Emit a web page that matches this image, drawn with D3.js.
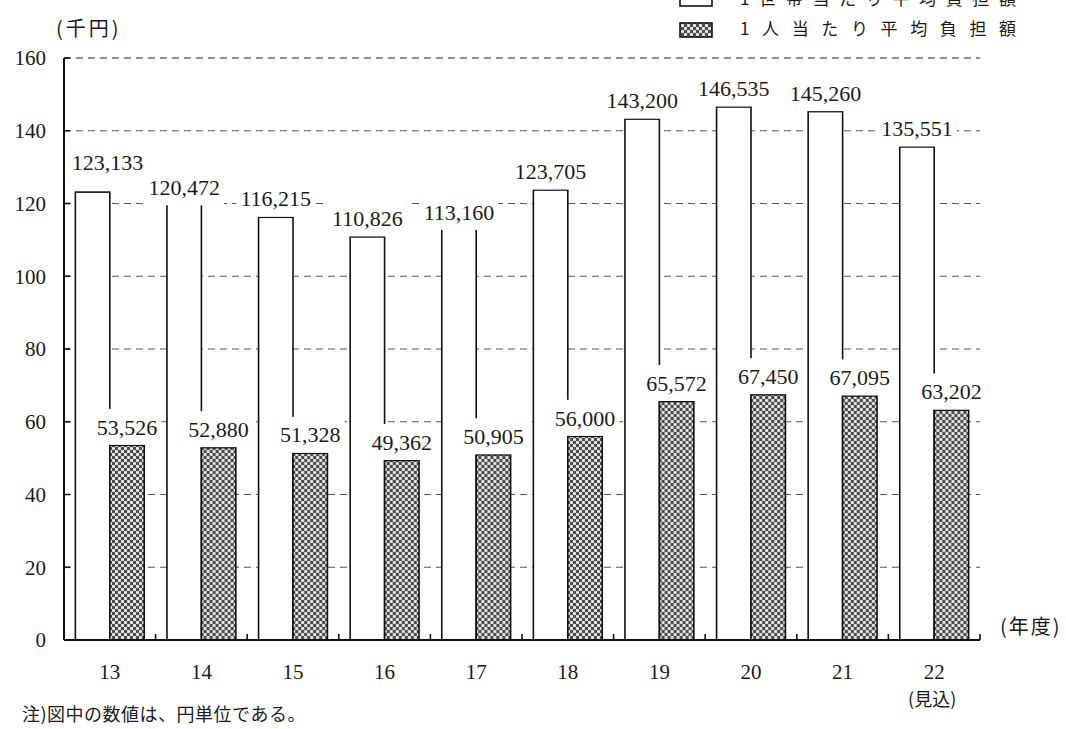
<!DOCTYPE html>
<html lang="ja">
<head>
<meta charset="utf-8">
<script src="https://cdn.jsdelivr.net/npm/d3@7"></script>
<style>
  html, body { margin: 0; padding: 0; background: #fff; }
  svg { display: block; }
  .num { font-family: "Liberation Serif", "DejaVu Serif", serif; fill: #1a1a1a; }
  .jp { font-family: "Noto Sans CJK JP", "Noto Sans CJK SC", sans-serif; fill: #1a1a1a; }
</style>
</head>
<body>
<svg id="chart" width="1066" height="729"></svg>
<script>
// Fiscal years (Heisei), average burden per household and per person (yen)
const years = ["13", "14", "15", "16", "17", "18", "19", "20", "21", "22"];
const yearNotes = ["", "", "", "", "", "", "", "", "", "(見込)"];
const householdBurden = [123133, 120472, 116215, 110826, 113160, 123705, 143200, 146535, 145260, 135551];
const perPersonBurden = [53526, 52880, 51328, 49362, 50905, 56000, 65572, 67450, 67095, 63202];
const yTicks = [0, 20, 40, 60, 80, 100, 120, 140, 160];
const seriesNames = ["1世帯当たり平均負担額", "1人当たり平均負担額"];

const svg = d3.select("#chart");
const plot = { left: 64, right: 980, top: 58, bottom: 640 };

const y = d3.scaleLinear().domain([0, 160]).range([plot.bottom, plot.top]);
const x = d3.scaleBand().domain(years).range([plot.left, plot.right]).paddingInner(0).paddingOuter(0);
const inner = d3.scaleBand().domain(["household", "person"]).range([0, x.bandwidth()])
  .paddingInner(0).paddingOuter(0.33);

// mesh fill for the per-person bars
const defs = svg.append("defs");
const pat = defs.append("pattern").attr("id", "mesh")
  .attr("width", 6).attr("height", 6).attr("patternUnits", "userSpaceOnUse");
pat.append("rect").attr("width", 6).attr("height", 6).attr("fill", "#d8d8d8");
pat.append("rect").attr("x", 0).attr("y", 0).attr("width", 3).attr("height", 3).attr("fill", "#4d4d4d");
pat.append("rect").attr("x", 3).attr("y", 3).attr("width", 3).attr("height", 3).attr("fill", "#4d4d4d");
pat.append("rect").attr("x", 4).attr("y", 1).attr("width", 1).attr("height", 1).attr("fill", "#fff");
pat.append("rect").attr("x", 1).attr("y", 4).attr("width", 1).attr("height", 1).attr("fill", "#fff");

// dashed gridlines
svg.append("g").selectAll("line").data(yTicks.filter(t => t > 0)).join("line")
  .attr("x1", plot.left).attr("x2", plot.right)
  .attr("y1", d => y(d)).attr("y2", d => y(d))
  .attr("stroke", d => d === 160 ? "#222" : "#555")
  .attr("stroke-width", 1)
  .attr("stroke-dasharray", "7,5");

// bars
const groups = svg.append("g").selectAll("g").data(years).join("g")
  .attr("transform", d => `translate(${x(d)},0)`);

groups.append("rect")
  .attr("x", inner("household"))
  .attr("width", inner.bandwidth())
  .attr("y", (d, i) => y(householdBurden[i] / 1000))
  .attr("height", (d, i) => plot.bottom - y(householdBurden[i] / 1000))
  .attr("fill", "#fff").attr("stroke", "#111").attr("stroke-width", 1.6);

groups.append("rect")
  .attr("x", inner("person"))
  .attr("width", inner.bandwidth())
  .attr("y", (d, i) => y(perPersonBurden[i] / 1000))
  .attr("height", (d, i) => plot.bottom - y(perPersonBurden[i] / 1000))
  .attr("fill", "url(#mesh)").attr("stroke", "#111").attr("stroke-width", 1.6);

// axes
const yAxis = svg.append("g");
yAxis.append("line").attr("x1", plot.left).attr("x2", plot.left)
  .attr("y1", y(160)).attr("y2", plot.bottom).attr("stroke", "#111").attr("stroke-width", 2);
yAxis.selectAll("line.tick").data(yTicks).join("line").attr("class", "tick")
  .attr("x1", plot.left).attr("x2", plot.left + 6)
  .attr("y1", d => y(d)).attr("y2", d => y(d))
  .attr("stroke", "#111").attr("stroke-width", 1.6);
yAxis.selectAll("text").data(yTicks).join("text").attr("class", "num")
  .attr("x", 46).attr("y", d => y(d)).attr("dy", "0.35em")
  .attr("text-anchor", "end").attr("font-size", 21)
  .text(d => d);

const xAxis = svg.append("g");
xAxis.append("line").attr("x1", plot.left).attr("x2", plot.right)
  .attr("y1", plot.bottom).attr("y2", plot.bottom).attr("stroke", "#111").attr("stroke-width", 2);
xAxis.selectAll("line.tick").data(years.slice(1).map(d => x(d)).concat([plot.right])).join("line")
  .attr("class", "tick")
  .attr("x1", d => d).attr("x2", d => d)
  .attr("y1", plot.bottom).attr("y2", plot.bottom - 6)
  .attr("stroke", "#111").attr("stroke-width", 1.6);
xAxis.selectAll("text.yr").data(years).join("text").attr("class", "num yr")
  .attr("x", d => x(d) + x.bandwidth() / 2).attr("y", 672).attr("dy", "0.35em")
  .attr("text-anchor", "middle").attr("font-size", 21)
  .text(d => d);
xAxis.selectAll("text.note").data(years.filter((d, i) => yearNotes[i])).join("text")
  .attr("class", "jp note")
  .attr("x", d => x(d) + x.bandwidth() / 2 - 2).attr("y", 700).attr("dy", "0.35em")
  .attr("text-anchor", "middle").attr("font-size", 18)
  .text(d => yearNotes[years.indexOf(d)]);

// value labels with white backing
const fmt = d3.format(",");
const labelGap = 18.5;
const householdLift = { 0: 29.5, 1: 14.5, 4: 16.5 };
const householdShift = { 0: 15 };
const labels = svg.append("g");
function addLabel(cx, cy, value) {
  const g = labels.append("g").attr("transform", `translate(${cx},${cy})`);
  const t = g.append("text").attr("class", "num")
    .attr("text-anchor", "middle").attr("dy", "0.35em").attr("font-size", 22)
    .text(fmt(value));
  const w = t.node().getComputedTextLength();
  g.insert("rect", "text")
    .attr("x", -w / 2 - 4).attr("width", w + 8)
    .attr("y", -18).attr("height", 36).attr("fill", "#fff");
}
years.forEach((d, i) => {
  const cxH = x(d) + inner("household") + inner.bandwidth() / 2 + (householdShift[i] ?? 0);
  const cxP = x(d) + inner("person") + inner.bandwidth() / 2;
  addLabel(cxH, y(householdBurden[i] / 1000) - (householdLift[i] ?? labelGap), householdBurden[i]);
  addLabel(cxP, y(perPersonBurden[i] / 1000) - labelGap, perPersonBurden[i]);
});

// unit captions
svg.append("text").attr("class", "jp").attr("x", 56).attr("y", 29).attr("dy", "0.35em")
  .attr("font-size", 20).attr("letter-spacing", 3).text("(千円)");
svg.append("text").attr("class", "jp").attr("x", 1000).attr("y", 627).attr("dy", "0.35em")
  .attr("font-size", 20).attr("letter-spacing", 2).text("(年度)");

// legend
const legend = svg.append("g");
legend.append("rect").attr("x", 680).attr("y", -8).attr("width", 32).attr("height", 14)
  .attr("fill", "#fff").attr("stroke", "#111").attr("stroke-width", 1.6);
legend.append("rect").attr("x", 680).attr("y", 23).attr("width", 32).attr("height", 14)
  .attr("fill", "url(#mesh)").attr("stroke", "#111").attr("stroke-width", 1.6);
legend.selectAll("text").data(seriesNames).join("text").attr("class", "jp")
  .attr("x", 740).attr("y", (d, i) => -1 + i * 30).attr("dy", "0.35em")
  .attr("font-size", 17)
  .attr("textLength", 276).attr("lengthAdjust", "spacing")
  .text(d => d);

// footnote
svg.append("text").attr("class", "jp").attr("x", 22).attr("y", 715).attr("dy", "0.35em")
  .attr("font-size", 18).attr("letter-spacing", 0.5).text("注)図中の数値は、円単位である。");
</script>
</body>
</html>
